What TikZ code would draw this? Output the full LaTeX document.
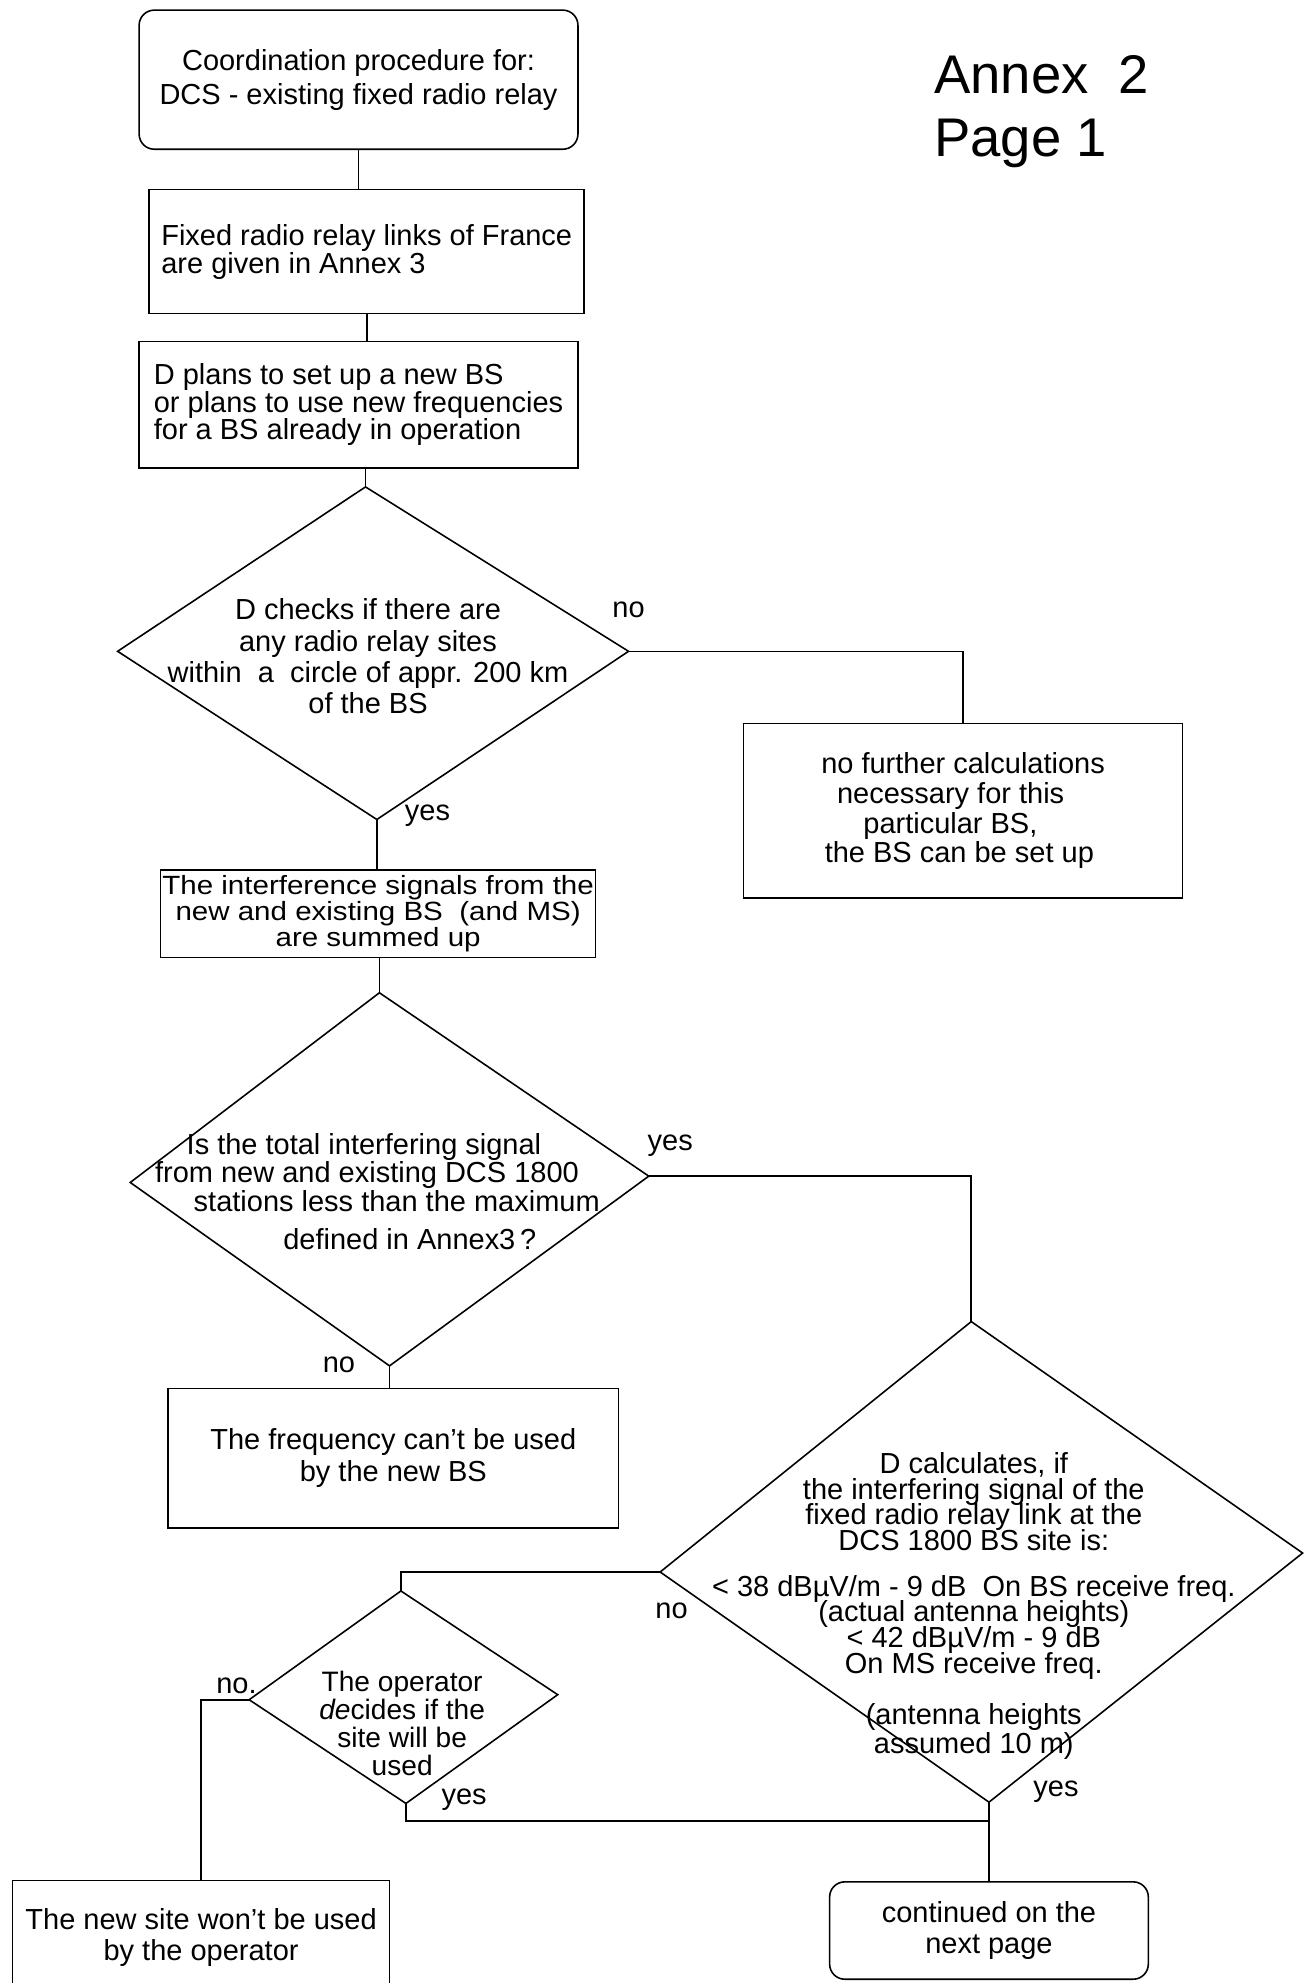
\documentclass[tikz,border=0pt]{standalone}
\usepackage{fontspec}
\setmainfont{Liberation Sans}
\newfontfamily\widesans[FakeStretch=1.12]{Liberation Sans}
\newlength\px
\setlength\px{0.0253cm}
\newcommand\tightls{\lineskiplimit=-100pt\relax\lineskip=0pt\relax}
\lineskiplimit=-100pt\relax
\lineskip=0pt\relax
\begin{document}
\begin{tikzpicture}[x=0.0253cm, y=-0.0253cm, line width=0.9pt,
  every node/.style={inner sep=0pt},
  ls/.style={font=\fontsize{16.5}{#1}\selectfont\tightls},
  sqbox/.style 2 args={draw, rectangle, minimum width=#1\px, minimum height=#2\px},
  rbox/.style 2 args={draw, rectangle, rounded corners=12\px, minimum width=#1\px, minimum height=#2\px},
  lab/.style={font=\fontsize{16.5}{19}\selectfont}]
\useasboundingbox (0,0) rectangle (1034,1568);

% title
\node[anchor=base west, font=\fontsize{31}{36}\selectfont] (annex) at (738,74) {Annex\ \ 2};
\node[anchor=base west, font=\fontsize{31}{36}\selectfont] (page) at (738,124) {Page 1};

% boxes
\node[rbox={347}{110}, ls=19.4, align=center] (b1) at (283.5,63) {Coordination procedure for:\\DCS - existing fixed radio relay};
\node[sqbox={344}{98}, ls=15.8, align=left] (b2) at (290,199) {Fixed radio relay links of France\\are given in Annex 3};
\node[sqbox={347}{100}, ls=15.5, align=left] (b3) at (283.5,320) {D plans to set up a new BS\\or plans to use new frequencies\\for a BS already in operation};

% diamond 1
\coordinate (d1t) at (289,385);
\coordinate (d1r) at (497,515);
\coordinate (d1b) at (298,648);
\coordinate (d1l) at (93,515);
\node[ls=17.8, align=center] (d1txt) at (291,519) {D checks if there are\\any radio relay sites\\within\ \ a\ \ circle of appr. 200 km\\of the BS};
\node[lab] (no1) at (497,482) {no};
\node[lab] (yes1) at (338,645) {yes};

\node[sqbox={347}{138}, ls=17, align=left] (b4) at (761.5,641) {no further calculations\\\hspace*{9pt}necessary for this\\\hspace*{24pt}particular BS,\\\hspace*{2pt}the BS can be set up};

\node[sqbox={344}{69}, font=\widesans\fontsize{15}{15}\selectfont\tightls, align=center] (b5) at (299,722.5) {The interference signals from the\\new and existing BS\ \ (and MS)\\are summed up};

% diamond 2
\coordinate (d2t) at (300,785);
\coordinate (d2r) at (513,930);
\coordinate (d2b) at (308,1080);
\coordinate (d2l) at (103,935);
\node[ls=16.3, align=left, anchor=west] (d2txt) at (122,942) {\hspace*{18pt}Is the total interfering signal\\from new and existing DCS 1800\\\hspace*{22pt}stations less than the maximum\\[5pt]\hspace*{73pt}defined in Annex3\,?};
\node[lab] (yes2) at (530,906) {yes};
\node[lab] (no2) at (268,1079) {no};

\node[sqbox={356}{110}, ls=18, align=center] (b6) at (311,1153) {The frequency can't be used\\by the new BS};

% diamond 3
\coordinate (d3t) at (768,1045);
\coordinate (d3r) at (1030,1228);
\coordinate (d3b) at (782,1425);
\coordinate (d3l) at (522,1243);
\node[ls=14.5, align=center] (d3txt) at (770,1270) {D calculates, if\\the interfering signal of the\\fixed radio relay link at the\\DCS 1800 BS site is:\\[11.5pt]< 38 dBµV/m - 9 dB\ \ On BS receive freq.\\(actual antenna heights)\\< 42 dBµV/m - 9 dB\\[0.5pt]On MS receive freq.\\[14.5pt](antenna heights\\[2pt]assumed 10 m)};
\node[lab] (no3) at (531,1274) {no};
\node[lab] (yes3) at (835,1417) {yes};

% diamond 4
\coordinate (d4t) at (317,1258);
\coordinate (d4r) at (441,1340);
\coordinate (d4b) at (321,1426);
\coordinate (d4l) at (197,1344);
\node[font=\fontsize{16}{16}\selectfont\tightls, align=center] (d4txt) at (318,1363) {The operator\\\textit{de}cides if the\\site will be\\used};
\node[lab] (no4) at (187,1333) {no.};
\node[lab] (yes4) at (367,1423) {yes};

\node[sqbox={298}{90}, ls=17.3, align=center] (b7) at (159,1532) {The new site won't be used\\by the operator};
\node[rbox={252}{77}, ls=18, align=center] (b8) at (782,1526.5) {continued on the\\next page};

% connectors and diamonds
\draw (b1.south) -- (b1.south |- b2.north);
\draw (b2.south) -- (b2.south |- b3.north);
\draw (d1t |- b3.south) -- (d1t);
\draw (d1t) -- (d1r) -- (d1b) -- (d1l) -- cycle;
\draw (d1r) -- (d1r -| b4.north) -- (b4.north);
\draw (d1b) -- (d1b |- b5.north);
\draw (d2t |- b5.south) -- (d2t);
\draw (d2t) -- (d2r) -- (d2b) -- (d2l) -- cycle;
\draw (d2r) -- (d2r -| d3t) -- (d3t);
\draw (d2b) -- (d2b |- b6.north);
\draw (d3t) -- (d3r) -- (d3b) -- (d3l) -- cycle;
\draw (d3l) -- (d3l -| d4t) -- (d4t);
\draw (d4t) -- (d4r) -- (d4b) -- (d4l) -- cycle;
\draw (d4l) -| (b7.north);
\draw (d3b) -- (d3b |- b8.north);
\coordinate (j2) at (d3b |- 0,1440);
\draw (d4b) |- (j2);
\end{tikzpicture}
\end{document}
